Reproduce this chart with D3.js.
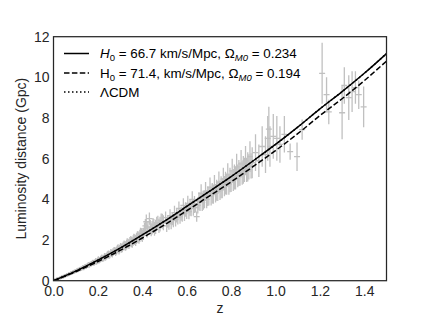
<!DOCTYPE html>
<html>
<head>
<meta charset="utf-8">
<script src="https://cdn.jsdelivr.net/npm/d3@7"></script>
<style>
    body { margin: 0; background: #fff; }
    svg { font-family: "Liberation Sans", Arial, sans-serif; }
    .tick text { fill: #262626; font-size: 14px; }
</style>
</head>
<body>
<svg id="chart"></svg>
<script>
// model curves (Gpc)
var zGrid = [0, 0.1, 0.2, 0.3, 0.4, 0.5, 0.6, 0.7, 0.8, 0.9, 1.0, 1.1, 1.2, 1.3, 1.4, 1.5];
var dlModelA = [0, 0.47, 1.01, 1.6, 2.25, 2.93, 3.65, 4.38, 5.12, 5.9, 6.7, 7.55, 8.45, 9.3, 10.2, 11.17];
var dlModelB = [0, 0.44, 0.94, 1.49, 2.10, 2.75, 3.44, 4.15, 4.86, 5.62, 6.4, 7.23, 8.12, 8.95, 9.84, 10.8];
var dlLcdm = [0, 0.47, 1.01, 1.6, 2.25, 2.93, 3.65, 4.38, 5.12, 5.9, 6.7, 7.55, 8.45, 9.3, 10.2, 11.17];

// supernova points: redshift, distance, error (first batch)
var snZ = [0.012, 0.016, 0.02, 0.024, 0.028, 0.031, 0.035, 0.038, 0.042, 0.046, 0.05, 0.055, 0.058, 0.062, 0.066, 0.07, 0.075, 0.08, 0.085, 0.09, 0.095,
    0.105, 0.11, 0.118, 0.124, 0.13, 0.136, 0.142, 0.148, 0.155, 0.16, 0.166, 0.172, 0.178, 0.184, 0.19, 0.196, 0.202, 0.208, 0.215, 0.222, 0.23, 0.236, 0.243, 0.25, 0.258, 0.265, 0.272, 0.28, 0.288, 0.295,
    0.302, 0.31, 0.318, 0.325, 0.332, 0.34, 0.348, 0.355, 0.362, 0.37, 0.378, 0.385, 0.392, 0.4, 0.41, 0.418, 0.425, 0.432, 0.44, 0.448, 0.455, 0.465, 0.475, 0.485, 0.495,
    0.505, 0.515, 0.525, 0.535, 0.545, 0.555, 0.565, 0.575, 0.585, 0.595, 0.605, 0.615, 0.625, 0.635, 0.645, 0.655, 0.665, 0.675, 0.685, 0.695, 0.705, 0.715, 0.725, 0.735, 0.745, 0.755, 0.765, 0.775, 0.785, 0.795, 0.805, 0.815, 0.825, 0.835, 0.845, 0.855, 0.865, 0.875, 0.885, 0.895,
    0.91, 0.925, 0.94, 0.955, 0.965, 0.97, 0.975, 0.99, 1.006, 1.02, 1.04, 1.066, 1.097, 1.12,
    1.21, 1.23, 1.24, 1.3, 1.31, 1.33, 1.345, 1.36, 1.375, 1.397];
var snD = [0.052, 0.075, 0.088, 0.11, 0.122, 0.145, 0.155, 0.18, 0.19, 0.215, 0.22, 0.26, 0.25, 0.3, 0.3, 0.33, 0.34, 0.39, 0.4, 0.44, 0.43,
    0.52, 0.5, 0.58, 0.57, 0.64, 0.62, 0.72, 0.68, 0.79, 0.76, 0.83, 0.85, 0.9, 0.88, 0.98, 0.95, 1.05, 1.02, 1.1, 1.08, 1.2, 1.17, 1.28, 1.25, 1.38, 1.33, 1.45, 1.42, 1.55, 1.5,
    1.65, 1.62, 1.76, 1.7, 1.85, 1.8, 1.95, 1.88, 2.05, 1.98, 2.15, 2.1, 2.3, 2.2, 2.55, 2.9, 2.6, 3.05, 2.5, 2.75, 2.55, 2.8, 2.7, 2.95, 2.85,
    3.1, 2.9, 3.2, 3.05, 3.35, 3.2, 3.55, 3.3, 3.7, 3.5, 3.8, 3.6, 4.0, 3.75, 3.15, 3.9, 4.3, 3.95, 4.4, 4.15, 4.6, 4.3, 4.7, 4.45, 4.85, 4.6, 5.0, 4.8, 5.2, 4.95, 5.4, 5.1, 5.6, 5.3, 5.75, 5.45, 5.9, 5.6, 6.1, 5.8,
    6.3, 5.9, 6.6, 6.2, 7.0, 7.45, 6.6, 7.1, 7.0, 6.7, 7.2, 6.35, 6.1, 7.43,
    10.2, 9.15, 8.3, 8.26, 9.6, 9.0, 9.3, 9.5, 9.15, 8.55];
var snErr = [0.02, 0.02, 0.03, 0.03, 0.03, 0.03, 0.04, 0.04, 0.04, 0.04, 0.05, 0.05, 0.05, 0.05, 0.06, 0.06, 0.06, 0.07, 0.07, 0.07, 0.08,
    0.08, 0.08, 0.09, 0.09, 0.1, 0.1, 0.1, 0.11, 0.11, 0.12, 0.12, 0.12, 0.13, 0.13, 0.14, 0.14, 0.15, 0.15, 0.15, 0.16, 0.16, 0.17, 0.17, 0.18, 0.18, 0.19, 0.19, 0.2, 0.2, 0.21,
    0.2, 0.22, 0.22, 0.23, 0.24, 0.24, 0.25, 0.26, 0.26, 0.27, 0.28, 0.28, 0.3, 0.3, 0.3, 0.35, 0.32, 0.3, 0.32, 0.33, 0.34, 0.35, 0.35, 0.36, 0.37,
    0.3, 0.3, 0.32, 0.32, 0.34, 0.34, 0.35, 0.35, 0.36, 0.36, 0.38, 0.4, 0.4, 0.42, 0.25, 0.44, 0.44, 0.46, 0.46, 0.48, 0.48, 0.5, 0.5, 0.52, 0.52, 0.54, 0.56, 0.56, 0.58, 0.6, 0.6, 0.62, 0.64, 0.64, 0.68, 0.68, 0.72, 0.72, 0.76, 0.76,
    0.9, 0.8, 1.0, 0.9, 1.1, 1.1, 1.0, 1.1, 1.1, 0.9, 0.9, 0.4, 0.7, 0.5,
    1.5, 0.85, 0.6, 1.3, 0.9, 1.1, 1.0, 0.8, 0.7, 1.0];

// second batch, filling the dense band
var snZ2 = [0.014, 0.022, 0.026, 0.033, 0.04, 0.044, 0.048, 0.052, 0.06, 0.068, 0.072, 0.078, 0.083, 0.088, 0.098,
    0.102, 0.115, 0.121, 0.128, 0.133, 0.14, 0.145, 0.152, 0.158, 0.163, 0.169, 0.175, 0.181, 0.187, 0.193, 0.2, 0.205, 0.212, 0.218, 0.226, 0.233, 0.24, 0.247, 0.254, 0.262, 0.268, 0.276, 0.284, 0.291, 0.298,
    0.306, 0.314, 0.322, 0.329, 0.336, 0.344, 0.352, 0.359, 0.366, 0.374, 0.381, 0.389, 0.396, 0.405, 0.414, 0.422, 0.436, 0.444, 0.452, 0.46, 0.47, 0.48, 0.49,
    0.51, 0.52, 0.53, 0.54, 0.55, 0.56, 0.57, 0.58, 0.59, 0.6, 0.61, 0.62, 0.63, 0.64, 0.65, 0.66, 0.67, 0.68, 0.69, 0.7, 0.71, 0.72, 0.73, 0.74, 0.75, 0.76, 0.77, 0.78, 0.79, 0.8, 0.81, 0.82, 0.83, 0.84, 0.85, 0.86, 0.87, 0.88, 0.89];
var snD2 = [0.07, 0.1, 0.125, 0.14, 0.175, 0.2, 0.23, 0.24, 0.27, 0.31, 0.35, 0.36, 0.38, 0.42, 0.47,
    0.48, 0.55, 0.6, 0.6, 0.66, 0.66, 0.7, 0.74, 0.8, 0.78, 0.8, 0.87, 0.86, 0.93, 0.92, 1.0, 0.99, 1.06, 1.13, 1.12, 1.15, 1.22, 1.3, 1.29, 1.35, 1.4, 1.46, 1.48, 1.58, 1.56,
    1.6, 1.7, 1.72, 1.78, 1.82, 1.9, 1.9, 1.98, 2.02, 2.08, 2.15, 2.2, 2.28, 2.3, 2.7, 2.45, 2.65, 2.6, 2.7, 2.65, 2.85, 2.78, 2.92,
    2.7, 2.8, 2.85, 2.95, 3.0, 3.1, 3.15, 3.25, 3.3, 3.4, 3.4, 3.55, 3.6, 3.6, 3.7, 3.85, 3.85, 4.0, 4.0, 4.15, 4.15, 4.25, 4.3, 4.4, 4.45, 4.55, 4.65, 4.75, 4.75, 4.9, 4.95, 5.05, 5.15, 5.25, 5.3, 5.45, 5.45, 5.6, 5.65];
var snErr2 = [0.02, 0.03, 0.03, 0.03, 0.04, 0.04, 0.04, 0.05, 0.05, 0.06, 0.06, 0.06, 0.07, 0.07, 0.08,
    0.08, 0.09, 0.09, 0.1, 0.1, 0.1, 0.11, 0.11, 0.12, 0.12, 0.12, 0.13, 0.13, 0.14, 0.14, 0.15, 0.15, 0.15, 0.16, 0.16, 0.17, 0.17, 0.18, 0.18, 0.19, 0.19, 0.2, 0.2, 0.21, 0.21,
    0.22, 0.22, 0.23, 0.24, 0.24, 0.25, 0.26, 0.26, 0.27, 0.28, 0.28, 0.3, 0.3, 0.3, 0.33, 0.32, 0.33, 0.33, 0.34, 0.35, 0.35, 0.36, 0.37,
    0.3, 0.3, 0.32, 0.32, 0.34, 0.34, 0.35, 0.35, 0.36, 0.36, 0.38, 0.38, 0.4, 0.25, 0.4, 0.42, 0.42, 0.44, 0.44, 0.45, 0.45, 0.46, 0.46, 0.48, 0.48, 0.5, 0.5, 0.52, 0.52, 0.54, 0.54, 0.56, 0.56, 0.58, 0.58, 0.6, 0.6, 0.62, 0.62];

var xTicks = [0, 0.2, 0.4, 0.6, 0.8, 1.0, 1.2, 1.4];
var yTicks = [0, 2, 4, 6, 8, 10, 12];

var width = 430,
    height = 316,
    plotLeft = 53.5, plotRight = 386.5, plotTop = 36.7, plotBottom = 280.7;

var svg = d3.select("#chart")
    .attr("width", width)
    .attr("height", height);

var x = d3.scaleLinear().domain([0, 1.5]).range([plotLeft, plotRight]);
var y = d3.scaleLinear().domain([0, 12]).range([plotBottom, plotTop]);

svg.append("clipPath").attr("id", "plot-clip")
    .append("rect")
    .attr("x", plotLeft).attr("y", plotTop)
    .attr("width", plotRight - plotLeft).attr("height", plotBottom - plotTop);

var plot = svg.append("g").attr("clip-path", "url(#plot-clip)");

// error bars
var grey = "#c0c0c0";
function toPoints(zs, ds, es) {
    return zs.map(function (z, i) { return {z: z, d: ds[i], e: es[i]}; });
}
var sn = toPoints(snZ, snD, snErr).concat(toPoints(snZ2, snD2, snErr2));
var bars = plot.append("g").attr("stroke", grey).attr("stroke-width", 1.3);
bars.selectAll("line.v")
    .data(sn).enter()
    .append("line").attr("class", "v")
    .attr("x1", function (d) { return x(d.z); })
    .attr("x2", function (d) { return x(d.z); })
    .attr("y1", function (d) { return y(d.d - d.e); })
    .attr("y2", function (d) { return y(d.d + d.e); });
bars.selectAll("line.h")
    .data(sn).enter()
    .append("line").attr("class", "h")
    .attr("x1", function (d) { return x(d.z) - 3; })
    .attr("x2", function (d) { return x(d.z) + 3; })
    .attr("y1", function (d) { return y(d.d); })
    .attr("y2", function (d) { return y(d.d); });

// model curves
var line = d3.line()
    .x(function (d) { return x(d[0]); })
    .y(function (d) { return y(d[1]); })
    .curve(d3.curveMonotoneX);

var curves = [
    {values: dlLcdm, dash: "1.5,2.5"},
    {values: dlModelB, dash: "5.5,2.4"},
    {values: dlModelA, dash: null}
];
curves.forEach(function (c) {
    plot.append("path")
        .datum(zGrid.map(function (z, i) { return [z, c.values[i]]; }))
        .attr("d", line)
        .attr("fill", "none")
        .attr("stroke", "#000")
        .attr("stroke-width", 1.5)
        .attr("stroke-dasharray", c.dash);
});

// axes
var xAxis = svg.append("g")
    .attr("transform", "translate(0," + plotBottom + ")")
    .call(d3.axisBottom(x).tickValues(xTicks).tickFormat(d3.format(".1f")).tickSize(0).tickPadding(5));
var yAxis = svg.append("g")
    .attr("transform", "translate(" + plotLeft + ",0)")
    .call(d3.axisLeft(y).tickValues(yTicks).tickFormat(d3.format("d")).tickSize(0).tickPadding(4));
xAxis.select(".domain").remove();
yAxis.select(".domain").remove();

svg.append("rect")
    .attr("x", plotLeft).attr("y", plotTop)
    .attr("width", plotRight - plotLeft).attr("height", plotBottom - plotTop)
    .attr("fill", "none")
    .attr("stroke", "#262626")
    .attr("stroke-width", 1.25);

svg.append("text")
    .attr("x", (plotLeft + plotRight) / 2).attr("y", 313)
    .attr("text-anchor", "middle")
    .attr("fill", "#262626")
    .style("font-size", "14px")
    .text("z");

svg.append("text")
    .attr("transform", "translate(26," + ((plotTop + plotBottom) / 2) + ") rotate(-90)")
    .attr("text-anchor", "middle")
    .attr("fill", "#262626")
    .style("font-size", "14px")
    .text("Luminosity distance (Gpc)");

// legend
var legend = svg.append("g").attr("font-size", "13.4px").attr("fill", "#000");
var rows = [
    {y: 53.5, dash: null},
    {y: 73, dash: "5.5,2.4"},
    {y: 92, dash: "1.5,2.5"}
];
rows.forEach(function (r) {
    legend.append("line")
        .attr("x1", 64).attr("x2", 89)
        .attr("y1", r.y).attr("y2", r.y)
        .attr("stroke", "#000").attr("stroke-width", 1.5)
        .attr("stroke-dasharray", r.dash);
});

function sub(t, s, italic) {
    t.append("tspan").attr("baseline-shift", "-25%").attr("font-size", "9.5px")
        .attr("font-style", italic ? "italic" : null).text(s);
}

var t1 = legend.append("text").attr("x", 100).attr("y", rows[0].y + 4.5);
t1.append("tspan").attr("font-style", "italic").text("H");
sub(t1, "0");
t1.append("tspan").text(" = 66.7 km/s/Mpc, \u03A9");
sub(t1, "M0", true);
t1.append("tspan").text(" = 0.234");

var t2 = legend.append("text").attr("x", 100).attr("y", rows[1].y + 4.5);
t2.append("tspan").text("H");
sub(t2, "0");
t2.append("tspan").text(" = 71.4,  km/s/Mpc, \u03A9");
sub(t2, "M0", true);
t2.append("tspan").text(" = 0.194");

legend.append("text").attr("x", 100).attr("y", rows[2].y + 4.5).text("\u039BCDM");
</script>
</body>
</html>
